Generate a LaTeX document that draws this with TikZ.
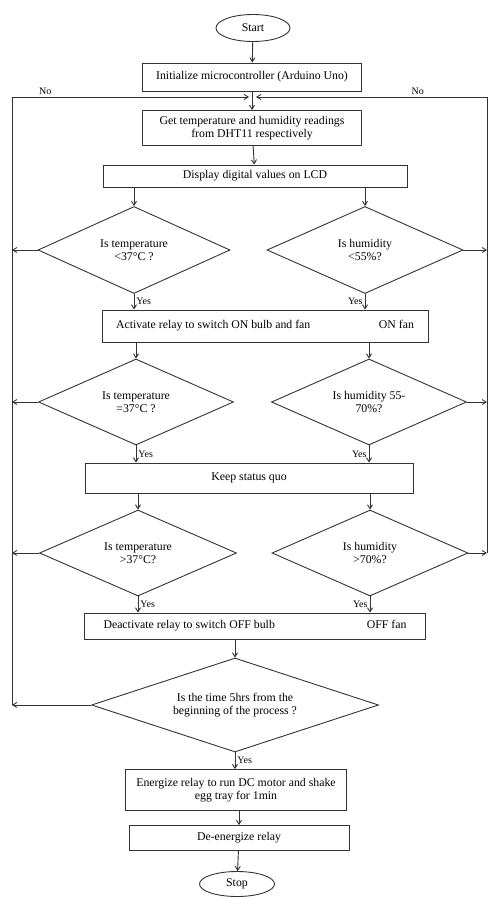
\documentclass[tikz,border=0pt]{standalone}
\usepackage{fontspec}
\setmainfont{Liberation Serif}
\usetikzlibrary{shapes.geometric,arrows.meta}

\tikzset{
  process/.style={draw, rectangle, inner sep=1pt, align=center},
  decision/.style={draw, diamond, inner sep=0pt, align=center, aspect=2.2},
  terminal/.style={draw, ellipse, inner sep=0pt},
  flow/.style={-{Straight Barb[length=4pt,width=5pt]}},
  tag/.style={font=\fontsize{10}{11}\selectfont, inner sep=2pt},
}

\begin{document}
\begin{tikzpicture}[x=1pt, y=-1pt, line width=0.9pt, draw=black!80,
    font=\fontsize{11.8}{13}\selectfont]
            \useasboundingbox (0,0) rectangle (489,899);

            % Start and set-up
            \node[terminal, minimum width=74, minimum height=27] (start) at (253,28) {Start};
            \node[process, minimum width=219, minimum height=28] (init) at (252,77) {Initialize microcontroller (Arduino Uno)};
            \node[process, minimum width=219, minimum height=35] (read) at (252,128) {Get temperature and humidity readings\\from DHT11 respectively};
            \node[process, minimum width=304, minimum height=22] (show) at (255,176) {Display digital values on LCD};

            % First pair of checks
            \node[decision, minimum width=192, minimum height=87] (tlow) at (134,250) {Is temperature\\<37°C ?};
            \node[decision, minimum width=196, minimum height=87] (hlow) at (365,250) {Is humidity\\<55\%?};
            \node[process, minimum width=326, minimum height=32] (on) at (265,326)
                {\makebox[298pt]{Activate relay to switch ON bulb and fan\hfill ON fan}};

            % Second pair of checks
            \node[decision, minimum width=195, minimum height=86] (tmid) at (136,402) {Is temperature\\=37°C ?};
            \node[decision, minimum width=195, minimum height=86] (hmid) at (369,402) {Is humidity 55-\\70\%?};
            \node[process, minimum width=328, minimum height=30] (keep) at (249,478) {Keep status quo};

            % Third pair of checks
            \node[decision, minimum width=197, minimum height=86] (thigh) at (138,553) {Is temperature\\>37°C?};
            \node[decision, minimum width=196, minimum height=86] (hhigh) at (370,553) {Is humidity\\>70\%?};
            \node[process, minimum width=341, minimum height=26] (off) at (255,626)
                {\makebox[303pt]{Deactivate relay to switch OFF bulb\hfill OFF fan}};

            % Timer and egg tray
            \node[decision, aspect=3, minimum width=287, minimum height=94] (timer) at (235,705) {Is the time 5hrs from the\\beginning of the process ?};
            \node[process, minimum width=221, minimum height=41] (shake) at (236,790) {Energize relay to run DC motor and shake\\egg tray for 1min};
            \node[process, minimum width=220, minimum height=25] (rest) at (239,838) {De-energize relay};
            \node[terminal, minimum width=75, minimum height=25] (stop) at (237,884) {Stop};

            % Corners of the two return loops
            \coordinate (ltop) at (12,97);
            \coordinate (lbot) at (12,705);
            \coordinate (rtop) at (487,97);
            \coordinate (rbot) at (487,553);
            \coordinate (lin) at (249,97);
            \coordinate (rin) at (256,97);

            % Main flow
            \draw[flow] (start) -- (init);
            \draw[flow] (init) -- (read);
            \draw[flow] (read) -- (show);
            \draw[flow] (tlow.north |- show.south) -- (tlow.north);
            \draw[flow] (hlow.north |- show.south) -- (hlow.north);
            \draw[flow] (tlow.south) -- (tlow.south |- on.north) node[tag, midway, right] {Yes};
            \draw[flow] (hlow.south) -- (hlow.south |- on.north) node[tag, midway, left] {Yes};
            \draw[flow] (tmid.north |- on.south) -- (tmid.north);
            \draw[flow] (hmid.north |- on.south) -- (hmid.north);
            \draw[flow] (tmid.south) -- (tmid.south |- keep.north) node[tag, midway, right] {Yes};
            \draw[flow] (hmid.south) -- (hmid.south |- keep.north) node[tag, midway, left] {Yes};
            \draw[flow] (thigh.north |- keep.south) -- (thigh.north);
            \draw[flow] (hhigh.north |- keep.south) -- (hhigh.north);
            \draw[flow] (thigh.south) -- (thigh.south |- off.north) node[tag, midway, right] {Yes};
            \draw[flow] (hhigh.south) -- (hhigh.south |- off.north) node[tag, midway, left] {Yes};
            \draw[flow] (timer.north |- off.south) -- (timer.north);
            \draw[flow] (timer.south) -- (shake.north -| timer.south) node[tag, midway, right] {Yes};
            \draw[flow] (shake.south -| rest.north) -- (rest.north);
            \draw[flow] (rest) -- (stop);

            % No branches, left side
            \foreach \q in {tlow, tmid, thigh, timer}
                \draw[flow] (\q.west) -- (\q.west -| ltop);
            \draw[flow] (lbot) -- (ltop) -- (lin) node[tag, pos=0.14, above] {No};

            % No branches, right side
            \foreach \q in {hlow, hmid, hhigh}
                \draw[flow] (\q.east) -- (\q.east -| rtop);
            \draw[flow] (rbot) -- (rtop) -- (rin) node[tag, pos=0.3, above] {No};
        \end{tikzpicture}
\end{document}
